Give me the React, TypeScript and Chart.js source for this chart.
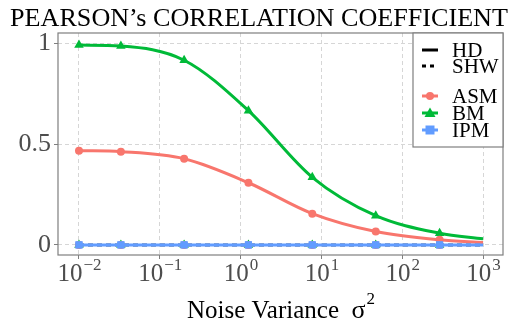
import React, { useEffect, useRef } from "react";
import { Chart, registerables } from "chart.js";

Chart.register(...registerables);

const TITLE = "PEARSON\u2019s CORRELATION COEFFICIENT";
const X_TITLE = "Noise Variance";
const noiseVariance = [0.01, 0.033, 0.2, 1.25, 7.7, 47, 290, 1000];
const bmHD = [0.99, 0.985, 0.915, 0.665, 0.335, 0.145, 0.058, 0.03];
const asmHD = [0.467, 0.462, 0.427, 0.308, 0.155, 0.066, 0.025, 0.012];
const ipmHD = [0, 0, 0, 0, 0, 0, 0, 0];
const asmSHW = [0, 0, 0, 0, 0, 0, 0, 0];
const bmSHW = [0, 0, 0, 0, 0, 0, 0, 0];
const ipmSHW = [0, 0, 0, 0, 0, 0, 0, 0];
const xTickExponents = [-2, -1, 0, 1, 2, 3];
const yTicks = [0, 0.5, 1];
const legendTypes = ["HD", "SHW"];
const legendMethods = ["ASM", "BM", "IPM"];

const RED = "#F8766D";
const GREEN = "#00BA38";
const BLUE = "#619CFF";
const SERIF = "'Liberation Serif', 'Times New Roman', serif";

const pts = (ys: number[]) => ys.map((y, i) => ({ x: noiseVariance[i], y }));
const radii = (r: number) => noiseVariance.map((_, i) => (i === noiseVariance.length - 1 ? 0 : r));

function drawMarker(ctx: CanvasRenderingContext2D, style: string, x: number, y: number, color: string) {
  ctx.save();
  ctx.fillStyle = color;
  ctx.beginPath();
  if (style === "circle") {
    ctx.arc(x, y, 4, 0, Math.PI * 2);
  } else if (style === "triangle") {
    ctx.moveTo(x, y - 5.5);
    ctx.lineTo(x + 5.5, y + 4);
    ctx.lineTo(x - 5.5, y + 4);
    ctx.closePath();
  } else {
    ctx.rect(x - 4.5, y - 4.5, 9, 9);
  }
  ctx.fill();
  ctx.restore();
}

const customDraw = {
  id: "customDraw",
  afterDraw(chart: any) {
    const ctx: CanvasRenderingContext2D = chart.ctx;
    const a = chart.chartArea;
    const xs = chart.scales.x;
    ctx.save();
    // panel border
    ctx.strokeStyle = "#7f7f7f";
    ctx.lineWidth = 1.2;
    ctx.strokeRect(a.left, a.top, a.right - a.left, a.bottom - a.top);

    // title
    ctx.fillStyle = "#000";
    ctx.textBaseline = "alphabetic";
    let fs = 22;
    ctx.font = `${fs}px ${SERIF}`;
    const w = ctx.measureText(TITLE).width;
    fs = (fs * 498) / w;
    ctx.font = `${fs}px ${SERIF}`;
    ctx.textAlign = "center";
    ctx.fillText(TITLE, 259, 26);

    // x tick labels 10^k
    ctx.fillStyle = "#4d4d4d";
    xTickExponents.forEach((e) => {
      const px = xs.getPixelForValue(Math.pow(10, e));
      const base = "10";
      const exp = e < 0 ? "\u2212" + Math.abs(e) : String(e);
      ctx.font = `25px ${SERIF}`;
      const bw = ctx.measureText(base).width;
      ctx.font = `17px ${SERIF}`;
      const ew = ctx.measureText(exp).width;
      const left = px - (bw + ew) / 2;
      ctx.textAlign = "left";
      ctx.font = `25px ${SERIF}`;
      ctx.fillText(base, left, 281);
      ctx.font = `17px ${SERIF}`;
      ctx.fillText(exp, left + bw + 1, 270);
    });

    // x axis title
    ctx.fillStyle = "#000";
    ctx.font = `25px ${SERIF}`;
    const t1 = X_TITLE + "  ";
    const w1 = ctx.measureText(t1).width;
    ctx.font = `26px ${SERIF}`;
    const w2 = ctx.measureText("\u03c3").width;
    ctx.font = `17px ${SERIF}`;
    const w3 = ctx.measureText("2").width;
    let lx = (a.left + a.right) / 2 - (w1 + w2 + w3) / 2;
    ctx.textAlign = "left";
    ctx.font = `25px ${SERIF}`;
    ctx.fillText(t1, lx, 318);
    ctx.font = `26px ${SERIF}`;
    ctx.fillText("\u03c3", lx + w1, 318);
    ctx.font = `17px ${SERIF}`;
    ctx.fillText("2", lx + w1 + w2 + 1, 304);

    // legend
    const lx0 = 413, ly0 = a.top, lw = a.right - 413, lh = 114;
    ctx.fillStyle = "#fff";
    ctx.fillRect(lx0, ly0, lw, lh);
    ctx.strokeStyle = "#7f7f7f";
    ctx.lineWidth = 1.2;
    ctx.strokeRect(lx0, ly0, lw, lh);
    ctx.font = `21px ${SERIF}`;
    ctx.textAlign = "left";
    const rows = [
      { label: legendTypes[0], y: 50, color: "#000", dash: [] as number[], marker: "" },
      { label: legendTypes[1], y: 66, color: "#000", dash: [4, 4], marker: "" },
      { label: legendMethods[0], y: 96, color: RED, dash: [] as number[], marker: "circle" },
      { label: legendMethods[1], y: 113, color: GREEN, dash: [] as number[], marker: "triangle" },
      { label: legendMethods[2], y: 130, color: BLUE, dash: [] as number[], marker: "rect" },
    ];
    rows.forEach((r) => {
      ctx.save();
      ctx.strokeStyle = r.color;
      ctx.lineWidth = 3;
      ctx.setLineDash(r.dash);
      ctx.beginPath();
      ctx.moveTo(422, r.y);
      ctx.lineTo(438, r.y);
      ctx.stroke();
      ctx.restore();
      if (r.marker) drawMarker(ctx, r.marker, 430, r.y, r.color);
      ctx.fillStyle = "#000";
      ctx.fillText(r.label, 452, r.y + 7);
    });
    ctx.restore();
  },
};

export default function App() {
  const ref = useRef<HTMLCanvasElement | null>(null);
  useEffect(() => {
    document.body.style.margin = "0";
    const mk = (label: string, ys: number[], color: string, style: string, dashed: boolean, r: number) => ({
      label,
      data: pts(ys),
      borderColor: color,
      backgroundColor: color,
      borderWidth: 3,
      borderDash: dashed ? [5, 4] : [],
      pointStyle: style,
      pointRadius: radii(r),
      pointHoverRadius: 0,
      pointBorderWidth: 0,
      cubicInterpolationMode: "monotone",
    });
    const chart = new Chart(ref.current as HTMLCanvasElement, {
      type: "line",
      data: {
        datasets: [
          mk("IPM SHW", ipmSHW, BLUE, "rect", true, 5),
          mk("IPM HD", ipmHD, BLUE, "rect", false, 5),
          mk("ASM HD", asmHD, RED, "circle", false, 4),
          mk("BM HD", bmHD, GREEN, "triangle", false, 5.5),
          mk("ASM SHW", asmSHW, RED, "circle", true, 4),
          mk("BM SHW", bmSHW, GREEN, "triangle", true, 5.5),
        ] as any,
      },
      options: {
        animation: false,
        responsive: false,
        events: [],
        layout: { padding: { top: 33, right: 11, left: 0, bottom: 0 } },
        plugins: { legend: { display: false }, tooltip: { enabled: false }, title: { display: false } },
        scales: {
          x: {
            type: "logarithmic",
            min: 0.0055,
            max: 1765,
            afterBuildTicks: (s: any) => {
              s.ticks = xTickExponents.map((e) => ({ value: Math.pow(10, e) }));
            },
            afterFit: (s: any) => {
              s.height = 69;
            },
            ticks: { display: false },
            grid: { color: "#d6d6d6", lineWidth: 1, drawTicks: true, tickLength: 4, tickColor: "#7f7f7f", tickBorderDash: [] },
            border: { display: false, dash: [4, 3] },
          },
          y: {
            min: -0.05,
            max: 1.05,
            afterBuildTicks: (s: any) => {
              s.ticks = yTicks.map((v) => ({ value: v }));
            },
            afterFit: (s: any) => {
              s.width = 58;
            },
            ticks: {
              color: "#4d4d4d",
              font: { family: SERIF, size: 26 },
              padding: 3,
              callback: (v: any) => String(v),
            },
            grid: { color: "#d6d6d6", lineWidth: 1, drawTicks: true, tickLength: 4, tickColor: "#7f7f7f", tickBorderDash: [] },
            border: { display: false, dash: [4, 3] },
          },
        },
      },
      plugins: [customDraw],
    } as any);
    return () => chart.destroy();
  }, []);
  return <canvas ref={ref} width={514} height={324} style={{ display: "block" }} />;
}
